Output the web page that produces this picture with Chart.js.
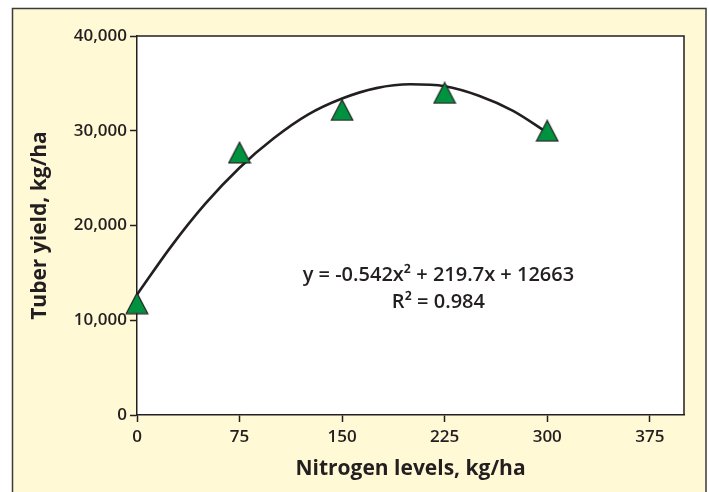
<!DOCTYPE html>
<html>
<head>
<meta charset="utf-8">
<script src="https://cdn.jsdelivr.net/npm/chart.js@4.4.1/dist/chart.umd.min.js"></script>
<style>
html,body{margin:0;padding:0;background:#fff;}
#wrap{width:709px;height:492px;position:relative;}
</style>
</head>
<body>
<div id="wrap"><canvas id="c" width="709" height="492"></canvas></div>
<script>
// ---- data ----
const nitrogenLevels = [0, 75, 150, 225, 300];
const tuberYield = [11800, 27700, 32200, 34000, 30000];
const trendX = [0, 25, 50, 75, 100, 125, 150, 175, 200, 225, 250, 275, 300];
const trendY = [12700, 17800, 22300, 26100, 29200, 31700, 33400, 34500, 34900, 34700, 33700, 32100, 29800];
const xTicks = [0, 75, 150, 225, 300, 375];
const yTicks = [0, 10000, 20000, 30000, 40000];
const xTitle = 'Nitrogen levels, kg/ha';
const yTitle = 'Tuber yield, kg/ha';
const equationLines = ['y = -0.542x\u00B2 + 219.7x + 12663', 'R\u00B2 = 0.984'];

const ink = '#231f20';
const green = '#00923f';

// triangle marker (centered on its bounding box)
function makeTriangle() {
  const c = document.createElement('canvas');
  c.width = 24; c.height = 23;
  const g = c.getContext('2d');
  g.beginPath();
  g.moveTo(12, 1.2);
  g.lineTo(22.8, 21.8);
  g.lineTo(1.2, 21.8);
  g.closePath();
  g.fillStyle = green;
  g.fill();
  g.lineWidth = 1.2;
  g.strokeStyle = ink;
  g.lineJoin = 'miter';
  g.stroke();
  return c;
}
const tri = makeTriangle();

const bgPlugin = {
  id: 'bg',
  beforeDraw(chart) {
    const ctx = chart.ctx;
    const a = chart.chartArea;
    ctx.save();
    ctx.fillStyle = '#ffffff';
    ctx.fillRect(0, 0, chart.width, chart.height);
    ctx.fillStyle = '#fff9d6';
    ctx.fillRect(12, 8, 694, 490);
    ctx.strokeStyle = '#3a3a3a';
    ctx.lineWidth = 1.5;
    ctx.beginPath();
    ctx.moveTo(12.5, 500);
    ctx.lineTo(12.5, 8.5);
    ctx.lineTo(706, 8.5);
    ctx.lineTo(706, 500);
    ctx.stroke();
    ctx.fillStyle = '#ffffff';
    ctx.fillRect(a.left, a.top, a.right - a.left, a.bottom - a.top);
    ctx.restore();
  },
  beforeDatasetsDraw(chart) {
    const ctx = chart.ctx;
    const a = chart.chartArea;
    ctx.save();
    ctx.strokeStyle = ink;
    ctx.lineWidth = 1.5;
    ctx.beginPath();
    ctx.moveTo(a.left, a.top);
    ctx.lineTo(a.right, a.top);
    ctx.lineTo(a.right, a.bottom);
    ctx.stroke();
    ctx.restore();
  },
  afterDraw(chart) {
    const ctx = chart.ctx;
    const a = chart.chartArea;
    ctx.save();
    ctx.fillStyle = ink;
    ctx.font = '600 20px "Open Sans"';
    ctx.textAlign = 'center';
    ctx.textBaseline = 'middle';
    const cx = a.left + (a.right - a.left) * 0.551;
    ctx.fillText(equationLines[0], cx, a.top + 239);
    ctx.fillText(equationLines[1], cx, a.top + 266);
    ctx.restore();
  }
};

const tickFont = {family: '"Open Sans"', size: 17, weight: '600'};
const titleFont = {family: '"Open Sans"', size: 21, weight: 'bold'};

new Chart(document.getElementById('c'), {
  type: 'scatter',
  data: {
    datasets: [
      {
        type: 'line',
        data: trendX.map((x, i) => ({x: x, y: trendY[i]})),
        borderColor: ink,
        borderWidth: 2.6,
        pointRadius: 0,
        tension: 0.4,
        cubicInterpolationMode: 'monotone',
        fill: false,
        clip: false,
        order: 2
      },
      {
        type: 'scatter',
        data: nitrogenLevels.map((x, i) => ({x: x, y: tuberYield[i]})),
        pointStyle: tri,
        pointRadius: 12,
        clip: false,
        order: 1
      }
    ]
  },
  plugins: [bgPlugin],
  options: {
    responsive: false,
    animation: false,
    devicePixelRatio: 1,
    layout: {padding: {top: 36, right: 25, left: 0, bottom: 0}},
    plugins: {legend: {display: false}, tooltip: {enabled: false}},
    scales: {
      x: {
        type: 'linear',
        min: 0, max: 400,
        afterBuildTicks: s => { s.ticks = xTicks.map(v => ({value: v})); },
        afterFit: s => { s.height = 77; },
        grid: {drawOnChartArea: false, drawTicks: true, tickLength: 7, color: ink, tickWidth: 1.5},
        border: {display: true, color: ink, width: 1.5},
        ticks: {padding: 5, font: tickFont, color: ink, maxRotation: 0},
        title: {display: true, text: xTitle, font: titleFont, color: ink, padding: {top: 0, bottom: 10}}
      },
      y: {
        type: 'linear',
        min: 0, max: 40000,
        afterBuildTicks: s => { s.ticks = yTicks.map(v => ({value: v})); },
        afterFit: s => { s.width = 137; },
        grid: {drawOnChartArea: false, drawTicks: true, tickLength: 7, color: ink, tickWidth: 1.5},
        border: {display: true, color: ink, width: 1.5},
        ticks: {padding: 3, font: tickFont, color: ink,
          callback: v => v.toLocaleString('en-US')},
        title: {display: true, text: yTitle, font: titleFont, color: ink, padding: {top: 27, bottom: 0}}
      }
    }
  }
});
</script>
</body>
</html>
